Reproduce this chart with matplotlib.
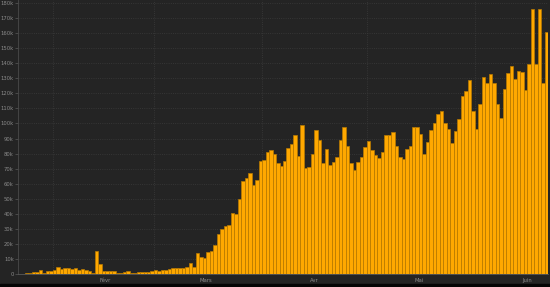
import pandas as pd
import matplotlib
matplotlib.use('Agg')
import matplotlib.pyplot as plt
import matplotlib.dates as mdates
import matplotlib.ticker as mticker
from matplotlib.patches import Rectangle

# daily new cases, thousands, from 2020-01-22
start = '2020-01-22'
cases_k = [0.3, 0.3, 0.7, 0.9, 1.1, 1.1, 2.9, 0.7, 2.2, 1.8,
           2.4, 4.9, 3.3, 4.2, 3.8, 3.3, 3.8, 2.9, 3.1, 2.7,
           2.0, 0.4, 15.0, 6.6, 2.2, 2.2, 2.0, 1.9, 0.5, 0.6,
           1.0, 1.8, 0.9, 0.9, 1.0, 1.1, 1.4, 1.5, 2.2, 2.6,
           2.0, 2.4, 2.4, 3.1, 4.0, 4.0, 4.0, 4.0, 4.9, 7.1,
           4.9, 14.2, 11.3, 10.9, 14.5, 15.4, 19.0, 26.7, 29.6, 32.0,
           32.5, 40.6, 39.9, 49.8, 62.0, 63.8, 67.3, 59.0, 62.6, 74.9,
           75.7, 80.8, 82.3, 80.0, 73.7, 71.5, 75.0, 83.9, 86.1, 92.5,
           78.4, 98.9, 70.2, 70.8, 80.0, 95.9, 88.7, 74.0, 82.8, 72.4,
           74.6, 77.7, 89.0, 97.6, 85.2, 73.7, 69.0, 74.4, 77.9, 84.5,
           88.3, 82.3, 79.0, 76.8, 80.8, 92.0, 92.5, 94.3, 85.2, 77.9,
           76.6, 83.2, 85.0, 97.8, 97.4, 93.0, 80.0, 88.0, 95.6, 100.0,
           106.5, 108.0, 100.5, 96.0, 87.0, 95.0, 103.0, 118.0, 121.7, 128.8,
           108.0, 96.5, 113.0, 131.0, 126.6, 133.0, 126.6, 113.0, 103.8, 123.0,
           133.7, 138.0, 129.7, 134.8, 134.0, 122.0, 139.6, 176.0, 139.4, 176.0,
           127.0, 160.7]
month_labels = ['Févr', 'Mars', 'Avr', 'Mai', 'Juin']
month_mid = ['2020-02-16', '2020-03-16', '2020-04-16', '2020-05-16', '2020-06-16']

dates = pd.date_range(start, periods=len(cases_k))
values = [v * 1000 for v in cases_k]

bg = '#242424'
fig = plt.figure(figsize=(5.5, 2.87), dpi=100, facecolor=bg)
# black strip along the very bottom
fig.patches.append(Rectangle((0, 0), 1, 3/287, transform=fig.transFigure,
                             color='#050505', zorder=0))
ax = fig.add_axes([18/550, 13/287, 530/550, 274/287], facecolor=bg)

ax.bar(dates, values, width=1.0, align='edge', color='#FFA800',
       edgecolor='#B87A00', linewidth=0.5, zorder=3)

ax.set_xlim(dates[0], dates[-1] + pd.Timedelta(days=1))
ax.set_ylim(0, 182000)

# y axis
ax.set_yticks(range(0, 180001, 10000))
ax.yaxis.set_major_formatter(mticker.FuncFormatter(
    lambda v, p: '0' if v == 0 else '%dk' % (v / 1000)))

# x axis: grid at month starts, labels mid-month
ax.xaxis.set_major_locator(mdates.MonthLocator())
ax.xaxis.set_major_formatter(mticker.NullFormatter())
ax.set_xticks(pd.to_datetime(month_mid), minor=True)
ax.set_xticklabels(month_labels, minor=True)

ax.tick_params(axis='y', colors='#5a5a5a', labelcolor='#8a8a8a',
               labelsize=3.8, length=2, width=0.5, pad=1)
ax.tick_params(axis='x', which='major', length=0)
ax.tick_params(axis='x', which='minor', length=0, labelcolor='#8a8a8a',
               labelsize=3.8, pad=3)

ax.grid(True, which='major', color='#3c3c3c', linestyle=':', linewidth=0.6, zorder=0)

for s in ['top', 'right']:
    ax.spines[s].set_visible(False)
ax.spines['left'].set_color('#4a4a4a')
ax.spines['left'].set_linewidth(0.6)
ax.spines['bottom'].set_color('#5a5a5a')
ax.spines['bottom'].set_linewidth(0.6)

fig.savefig('out.png', dpi=100, facecolor=bg)
